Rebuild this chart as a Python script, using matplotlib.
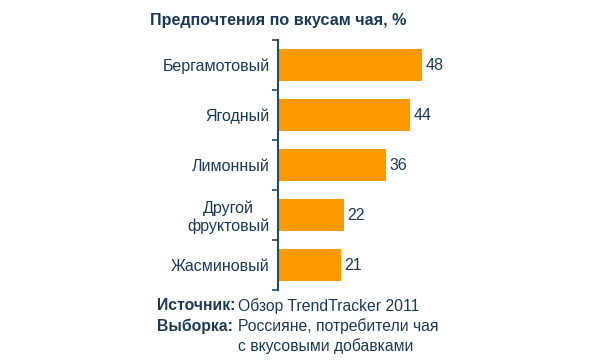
import matplotlib.pyplot as plt

# data
flavors = ["Бергамотовый", "Ягодный", "Лимонный", "Другой\nфруктовый", "Жасминовый"]
shares = [48, 44, 36, 22, 21]

text_color = "#1b3a57"
bar_color = "#ff9900"
axis_color = "#1f4f6f"

plt.rcParams["font.family"] = ["Liberation Sans", "DejaVu Sans"]

fig = plt.figure(figsize=(6, 3.64), dpi=100)
W, H = 600, 364

# axes box in pixel coords: left 278, top 40, bottom 290
ax = fig.add_axes([278 / W, (H - 290) / H, 180 / W, 250 / H])

pos = list(range(len(flavors)))
ax.barh(pos, shares, height=0.65, color=bar_color, edgecolor="none")

for p, v in zip(pos, shares):
    ax.text(v + 1.2, p, str(v), va="center", ha="left", fontsize=11.5, color=text_color)

ax.set_xlim(0, 60)
ax.set_ylim(len(flavors) - 0.5, -0.5)

# labels at bar centres, tick marks on category boundaries
ax.set_yticks(pos)
ax.set_yticklabels(flavors, fontsize=11.5, color=text_color, ha="right",
                   multialignment="center")
ax.tick_params(axis="y", which="major", length=0, pad=6)
ax.set_yticks([p - 0.5 for p in pos] + [len(flavors) - 0.5], minor=True)
ax.tick_params(axis="y", which="minor", length=4, width=1.2, color=axis_color)

ax.xaxis.set_visible(False)
for s in ["top", "right", "bottom"]:
    ax.spines[s].set_visible(False)
ax.spines["left"].set_color(axis_color)
ax.spines["left"].set_linewidth(1.5)

# title
fig.text(150 / W, 1 - 21 / H, "Предпочтения по вкусам чая, %", fontsize=11.6,
         fontweight="bold", color=text_color, ha="left", va="center")

# footer
fs = 11.3
fig.text(157 / W, 1 - 306 / H, "Источник:", fontsize=fs, fontweight="bold",
         color=text_color, ha="left", va="center")
fig.text(238 / W, 1 - 306 / H, "Обзор TrendTracker 2011", fontsize=fs,
         color=text_color, ha="left", va="center")
fig.text(157 / W, 1 - 326 / H, "Выборка:", fontsize=fs, fontweight="bold",
         color=text_color, ha="left", va="center")
fig.text(238 / W, 1 - 326 / H, "Россияне, потребители чая", fontsize=fs,
         color=text_color, ha="left", va="center")
fig.text(238 / W, 1 - 346 / H, "с вкусовыми добавками", fontsize=fs,
         color=text_color, ha="left", va="center")

fig.savefig("out.png", dpi=100)
